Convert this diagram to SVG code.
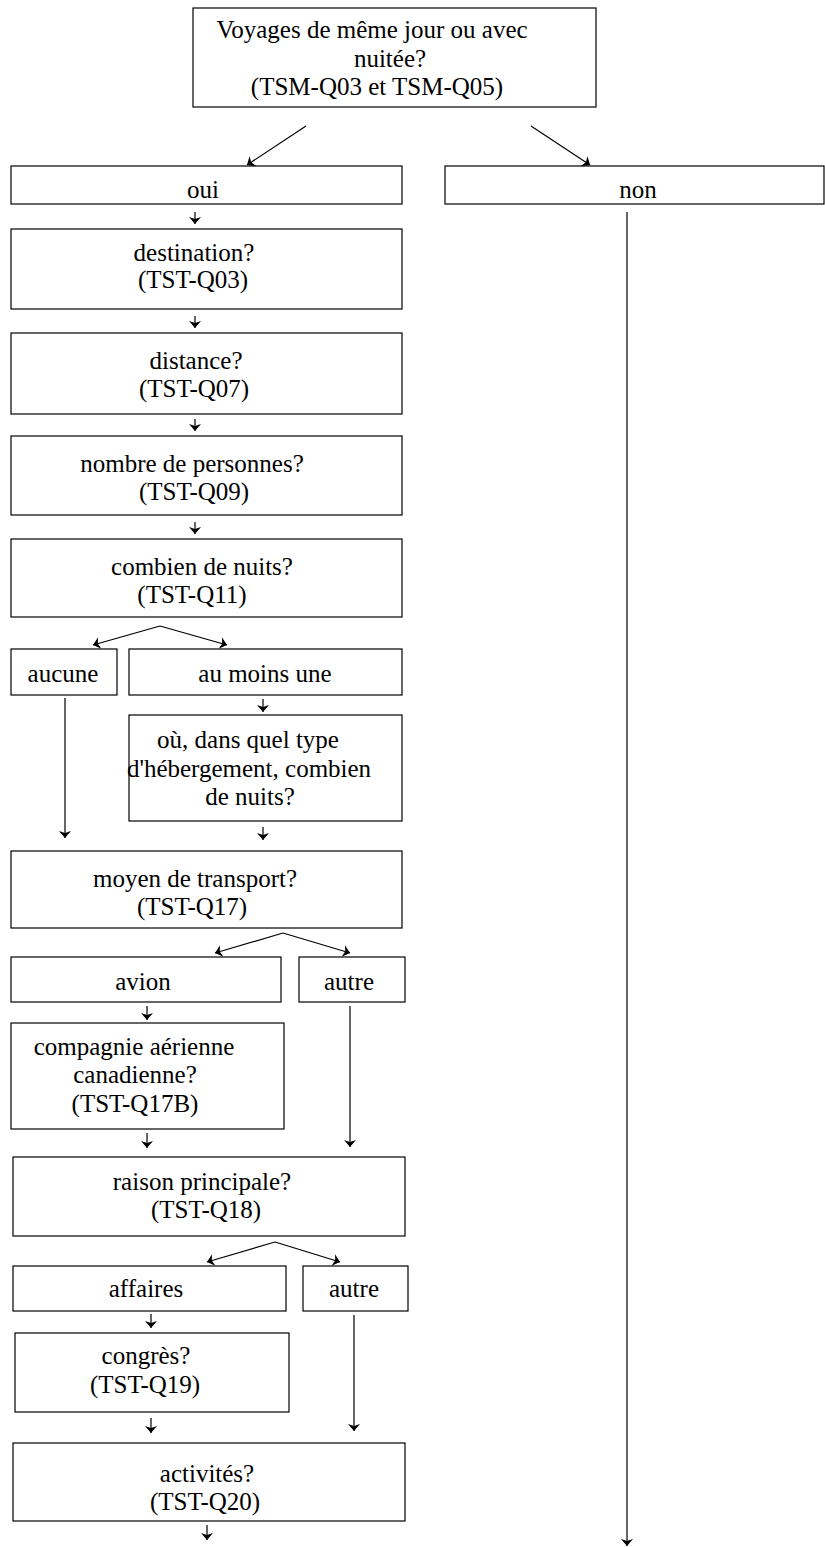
<svg xmlns="http://www.w3.org/2000/svg" width="825" height="1547" viewBox="0 0 825 1547">
<style>
.b{fill:#fff;stroke:#000;stroke-width:1.2}
.t{font-family:'Liberation Serif',serif;font-size:25px;fill:#000;text-anchor:middle}
.c{stroke:#000;stroke-width:1.2;fill:none;marker-end:url(#ah)}
</style>
<defs>
<marker id="ah" markerUnits="userSpaceOnUse" markerWidth="10" markerHeight="14" refX="7" refY="7" orient="auto">
<path d="M0,1 L7,7 L0,13 L2,7 z" fill="#000"/>
</marker>
</defs>
<rect width="825" height="1547" fill="#fff"/>
<g font-family="Liberation Serif, serif">
<g id="n-top"><rect class="b" x="193" y="8" width="403" height="99"/>
<text class="t" x="372" y="38">Voyages de même jour ou avec</text>
<text class="t" x="390" y="67">nuitée?</text>
<text class="t" x="377" y="95">(TSM-Q03 et TSM-Q05)</text></g>
<g id="n-oui"><rect class="b" x="11" y="166" width="391" height="38"/><text class="t" x="203" y="198">oui</text></g>
<g id="n-non"><rect class="b" x="445" y="166" width="379" height="38"/><text class="t" x="638" y="198">non</text></g>
<g id="n-dest"><rect class="b" x="11" y="229" width="391" height="80"/>
<text class="t" x="194" y="261">destination?</text><text class="t" x="193" y="288">(TST-Q03)</text></g>
<g id="n-dist"><rect class="b" x="11" y="333" width="391" height="81"/>
<text class="t" x="196" y="369">distance?</text><text class="t" x="194" y="397">(TST-Q07)</text></g>
<g id="n-pers"><rect class="b" x="11" y="436" width="391" height="79"/>
<text class="t" x="192" y="472">nombre de personnes?</text><text class="t" x="194" y="500">(TST-Q09)</text></g>
<g id="n-nuits"><rect class="b" x="11" y="539" width="391" height="78"/>
<text class="t" x="202" y="575">combien de nuits?</text><text class="t" x="192" y="603">(TST-Q11)</text></g>
<g id="n-aucune"><rect class="b" x="11" y="649" width="106" height="46"/><text class="t" x="63" y="682">aucune</text></g>
<g id="n-aumoins"><rect class="b" x="129" y="649" width="273" height="46"/><text class="t" x="265" y="682">au moins une</text></g>
<g id="n-ou"><rect class="b" x="129" y="715" width="273" height="106"/>
<text class="t" x="248" y="748">où, dans quel type</text>
<text class="t" x="249" y="777">d'hébergement, combien</text>
<text class="t" x="250" y="805">de nuits?</text></g>
<g id="n-transport"><rect class="b" x="11" y="851" width="391" height="77"/>
<text class="t" x="195" y="887">moyen de transport?</text><text class="t" x="192" y="915">(TST-Q17)</text></g>
<g id="n-avion"><rect class="b" x="11" y="957" width="270" height="45"/><text class="t" x="143" y="990">avion</text></g>
<g id="n-autre1"><rect class="b" x="299" y="957" width="106" height="45"/><text class="t" x="349" y="990">autre</text></g>
<g id="n-comp"><rect class="b" x="11" y="1023" width="273" height="106"/>
<text class="t" x="134" y="1055">compagnie aérienne</text>
<text class="t" x="135" y="1083">canadienne?</text>
<text class="t" x="135" y="1112">(TST-Q17B)</text></g>
<g id="n-raison"><rect class="b" x="13" y="1157" width="392" height="79"/>
<text class="t" x="202" y="1190">raison principale?</text><text class="t" x="206" y="1218">(TST-Q18)</text></g>
<g id="n-affaires"><rect class="b" x="13" y="1266" width="273" height="45"/><text class="t" x="146" y="1297">affaires</text></g>
<g id="n-autre2"><rect class="b" x="303" y="1266" width="105" height="45"/><text class="t" x="354" y="1297">autre</text></g>
<g id="n-congres"><rect class="b" x="15" y="1333" width="274" height="79"/>
<text class="t" x="146" y="1364">congrès?</text><text class="t" x="145" y="1393">(TST-Q19)</text></g>
<g id="n-activites"><rect class="b" x="13" y="1443" width="392" height="78"/>
<text class="t" x="207" y="1482">activités?</text><text class="t" x="205" y="1510">(TST-Q20)</text></g>
</g>
<g id="connectors">
<line class="c" x1="306" y1="126" x2="247" y2="165"/>
<line class="c" x1="531" y1="126" x2="590" y2="165"/>
<line class="c" x1="195" y1="212" x2="195" y2="224"/>
<line class="c" x1="195" y1="316" x2="195" y2="328"/>
<line class="c" x1="195" y1="419" x2="195" y2="431"/>
<line class="c" x1="195" y1="522" x2="195" y2="534"/>
<polyline class="c" points="160,626 93,645"/>
<polyline class="c" points="160,626 227,645"/>
<line class="c" x1="65" y1="698" x2="65" y2="838"/>
<line class="c" x1="263" y1="699" x2="263" y2="712"/>
<line class="c" x1="263" y1="827" x2="263" y2="840"/>
<polyline class="c" points="283,933 215,953"/>
<polyline class="c" points="283,933 350,953"/>
<line class="c" x1="147" y1="1006" x2="147" y2="1020"/>
<line class="c" x1="350" y1="1006" x2="350" y2="1147"/>
<line class="c" x1="147" y1="1133" x2="147" y2="1148"/>
<polyline class="c" points="275,1242 207,1262"/>
<polyline class="c" points="275,1242 340,1262"/>
<line class="c" x1="151" y1="1314" x2="151" y2="1328"/>
<line class="c" x1="354" y1="1315" x2="354" y2="1431"/>
<line class="c" x1="151" y1="1418" x2="151" y2="1433"/>
<line class="c" x1="207" y1="1525" x2="207" y2="1540"/>
<line class="c" x1="627" y1="212" x2="627" y2="1546"/>
</g>
</svg>
